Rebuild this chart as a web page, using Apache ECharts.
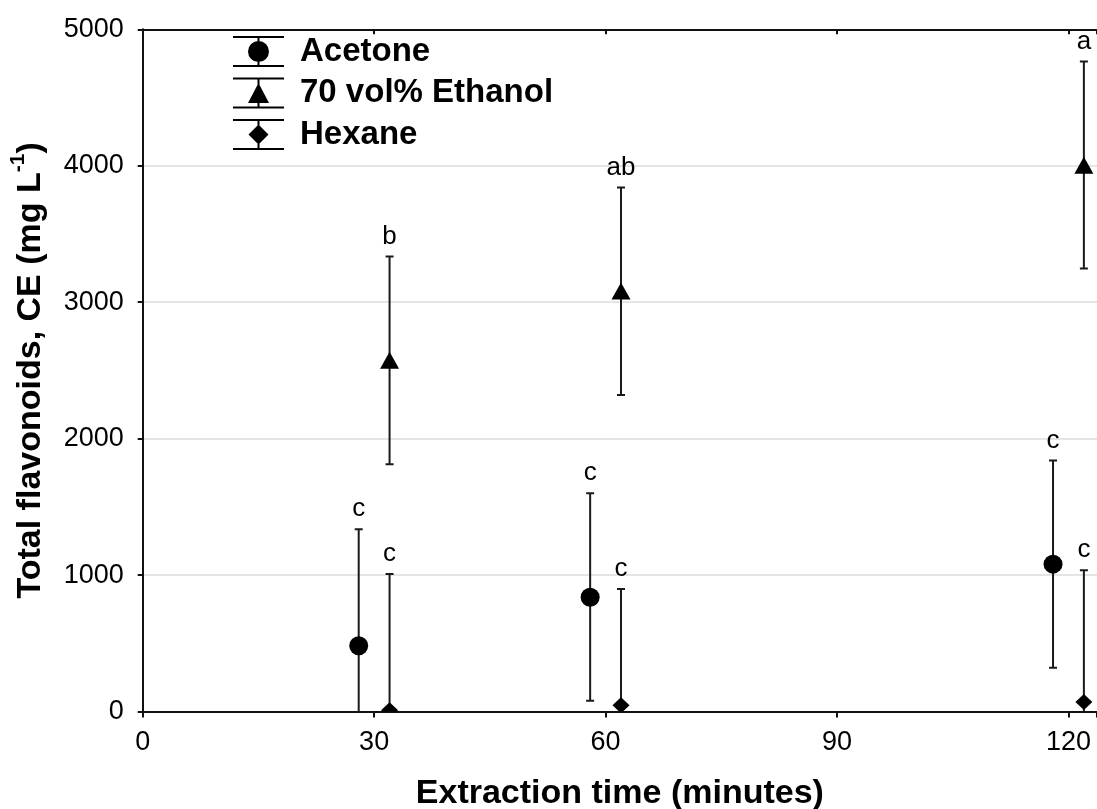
<!DOCTYPE html>
<html>
<head>
<meta charset="utf-8">
<script src="https://cdn.jsdelivr.net/npm/echarts@6/dist/echarts.min.js"></script>
<style>
html,body{margin:0;padding:0;background:#fff;}
#chart{width:1097px;height:809px;}
</style>
</head>
<body>
<div id="chart"></div>
<script>
// ---- data ----
const seriesNames = ['Acetone', '70 vol% Ethanol', 'Hexane'];

const acetoneTime = [28, 58, 118];
const acetoneMean = [482, 837, 1080];
const acetoneLow = [-372, 79, 321];
const acetoneHigh = [1336, 1600, 1839];
const acetoneLetters = ['c', 'c', 'c'];

const ethanolTime = [32, 62, 122];
const ethanolMean = [2570, 3078, 4000];
const ethanolLow = [1812, 2320, 3246];
const ethanolHigh = [3334, 3840, 4764];
const ethanolLetters = ['b', 'ab', 'a'];

const hexaneTime = [32, 62, 122];
const hexaneMean = [10, 45, 70];
const hexaneLow = [-988, -808, -896];
const hexaneHigh = [1008, 898, 1036];
const hexaneLetters = ['c', 'c', 'c'];

const xTickValues = [0, 30, 60, 90, 120];
const yTickValues = [0, 1000, 2000, 3000, 4000, 5000];

// ---- styles ----
const FONT = '"Liberation Sans", Arial, sans-serif';
const INK = '#111';

function rows(t, m, lo, hi) {
  return t.map((x, i) => [x, m[i], lo[i], hi[i]]);
}

function markerShape(kind, cx, cy) {
  const st = { fill: '#000', stroke: null };
  if (kind === 'circle') {
    return { type: 'circle', shape: { cx: cx, cy: cy, r: 9.5 }, style: st, z2: 5 };
  }
  if (kind === 'triangle') {
    return { type: 'polygon', shape: { points: [[cx, cy - 9], [cx + 9.5, cy + 8], [cx - 9.5, cy + 8]] }, style: st, z2: 5 };
  }
  return { type: 'polygon', shape: { points: [[cx, cy - 8], [cx + 8.5, cy], [cx, cy + 8], [cx - 8.5, cy]] }, style: st, z2: 5 };
}

function makeRender(kind, letters) {
  return function (params, api) {
    const x = api.value(0), m = api.value(1), lo = api.value(2), hi = api.value(3);
    const pTop = api.coord([x, hi]);
    const pMid = api.coord([x, m]);
    const pBot = api.coord([x, Math.max(lo, 0)]);
    const ls = { stroke: '#1a1a1a', lineWidth: 2 };
    const children = [
      { type: 'line', shape: { x1: pTop[0], y1: pTop[1], x2: pBot[0], y2: pBot[1] }, style: ls },
      { type: 'line', shape: { x1: pTop[0] - 4, y1: pTop[1], x2: pTop[0] + 4, y2: pTop[1] }, style: ls }
    ];
    if (lo > 0) {
      children.push({ type: 'line', shape: { x1: pBot[0] - 4, y1: pBot[1], x2: pBot[0] + 4, y2: pBot[1] }, style: ls });
    }
    children.push(markerShape(kind, pMid[0], pMid[1]));
    children.push({
      type: 'text', x: pTop[0], y: pTop[1] - 7,
      style: {
        text: letters[params.dataIndex], fill: '#000',
        fontSize: 26, fontFamily: FONT,
        align: 'center', verticalAlign: 'bottom'
      }
    });
    return { type: 'group', children: children };
  };
}

// legend icons: error bar + marker, in a 51 x 31 box
const capsAndBar = 'M0,0 L51,0 L51,2 L0,2 Z M0,29 L51,29 L51,31 L0,31 Z M24.5,0 L26.5,0 L26.5,31 L24.5,31 Z ';
const iconCircle = 'path://' + capsAndBar + 'M15,15.5 A10.5,10.5 0 1,1 36,15.5 A10.5,10.5 0 1,1 15,15.5 Z';
const iconTriangle = 'path://' + capsAndBar + 'M15,25.5 L25.5,5.5 L36,25.5 Z';
const iconDiamond = 'path://' + capsAndBar + 'M25.5,5.5 L35.5,15.5 L25.5,25.5 L15.5,15.5 Z';

const chart = echarts.init(document.getElementById('chart'), null, { renderer: 'canvas' });

const option = {
  backgroundColor: '#fff',
  animation: false,
  grid: { left: 142.7, right: 0, top: 29.3, bottom: 97.5, containLabel: false, outerBoundsMode: 'none' },
  legend: {
    orient: 'vertical', left: 233, top: 35, padding: 0,
    itemWidth: 51, itemHeight: 31, itemGap: 8.5,
    textStyle: { fontSize: 33, fontWeight: 'bold', fontFamily: FONT, color: '#000', lineHeight: 31, padding: [0, 0, 0, 11] },
    data: [
      { name: seriesNames[0], icon: iconCircle },
      { name: seriesNames[1], icon: iconTriangle },
      { name: seriesNames[2], icon: iconDiamond }
    ],
    selectedMode: false
  },
  xAxis: [{
    type: 'value', min: 0, max: 123.7, interval: 30, position: 'bottom',
    name: 'Extraction time (minutes)', nameLocation: 'middle', nameGap: 65,
    nameTextStyle: { fontSize: 34, fontWeight: 'bold', fontFamily: FONT, color: '#000' },
    axisLine: { show: true, lineStyle: { color: INK, width: 2 } },
    axisTick: { show: true, length: 6, lineStyle: { color: INK, width: 2 } },
    axisLabel: {
      fontSize: 27, fontFamily: FONT, color: '#000', margin: 18,
      formatter: function (v) { return xTickValues.indexOf(v) >= 0 ? String(v) : ''; }
    },
    splitLine: { show: false }
  }, {
    type: 'value', min: 0, max: 123.7, interval: 30, position: 'top',
    axisLine: { show: true, lineStyle: { color: INK, width: 2 } },
    axisTick: { show: true, inside: true, length: 5, lineStyle: { color: INK, width: 2 } },
    axisLabel: { show: false },
    splitLine: { show: false }
  }],
  yAxis: {
    type: 'value', min: 0, max: 5000, interval: 1000,
    name: '{t|Total flavonoids, CE (mg L}{s|-1}{t|)}',
    nameLocation: 'middle', nameGap: 95, nameRotate: 90,
    nameTextStyle: {
      rich: {
        t: { fontSize: 34, fontWeight: 'bold', fontFamily: FONT, color: '#000', lineHeight: 40, verticalAlign: 'bottom' },
        s: { fontSize: 21, fontWeight: 'bold', fontFamily: FONT, color: '#000', lineHeight: 40, verticalAlign: 'top' }
      }
    },
    axisLine: { show: true, lineStyle: { color: INK, width: 2 } },
    axisTick: { show: true, length: 5, lineStyle: { color: INK, width: 2 } },
    axisLabel: {
      fontSize: 27, fontFamily: FONT, color: '#000', margin: 19,
      formatter: function (v) { return yTickValues.indexOf(v) >= 0 ? String(v) : ''; }
    },
    splitLine: { show: true, lineStyle: { color: '#dcdcdc', width: 1.5 } }
  },
  series: [
    {
      name: seriesNames[0], type: 'custom', clip: true, itemStyle: { color: '#000' },
      renderItem: makeRender('circle', acetoneLetters),
      encode: { x: 0, y: [1, 2, 3] },
      data: rows(acetoneTime, acetoneMean, acetoneLow, acetoneHigh)
    },
    {
      name: seriesNames[1], type: 'custom', clip: true, itemStyle: { color: '#000' },
      renderItem: makeRender('triangle', ethanolLetters),
      encode: { x: 0, y: [1, 2, 3] },
      data: rows(ethanolTime, ethanolMean, ethanolLow, ethanolHigh)
    },
    {
      name: seriesNames[2], type: 'custom', clip: true, itemStyle: { color: '#000' },
      renderItem: makeRender('diamond', hexaneLetters),
      encode: { x: 0, y: [1, 2, 3] },
      data: rows(hexaneTime, hexaneMean, hexaneLow, hexaneHigh)
    }
  ]
};

chart.setOption(option);
</script>
</body>
</html>
